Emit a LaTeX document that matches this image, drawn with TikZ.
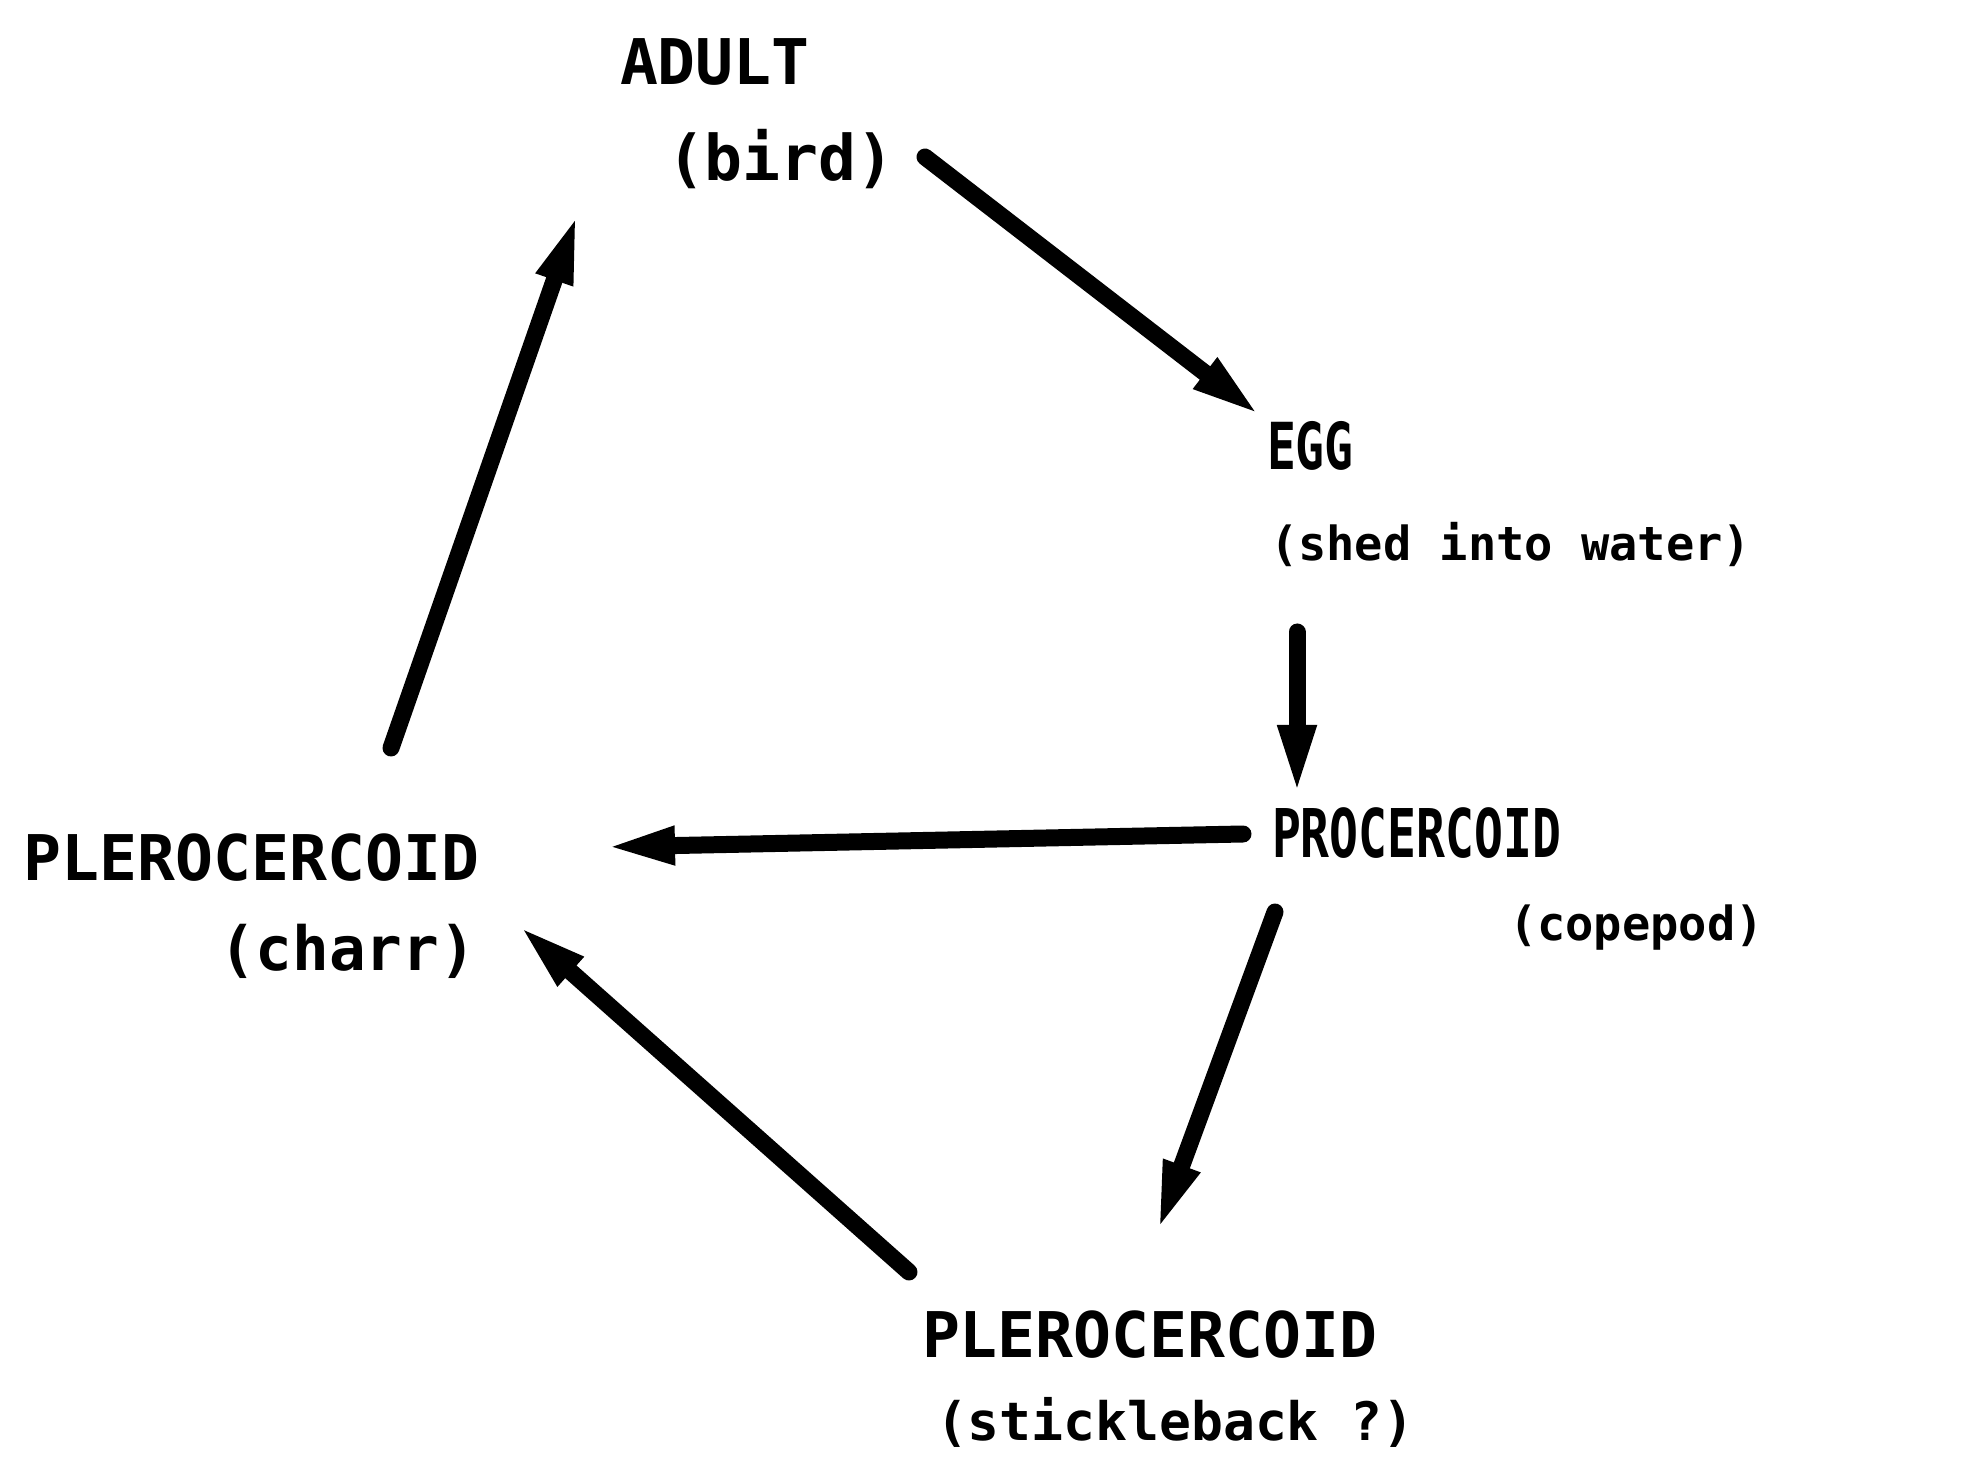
\documentclass[tikz,border=0pt]{standalone}
\usepackage{fontspec}
\newfontfamily\lblfont{DejaVu Sans Mono}
\usetikzlibrary{arrows.meta}
\tikzset{
  lbl/.style={anchor=base west, inner sep=0pt, outer sep=0pt},
  flow/.style={line width=8.5pt, line cap=round, -{Triangle[length=36pt,width=17pt]}}
}
\newcommand{\fs}[1]{\lblfont\bfseries\fontsize{#1}{#1}\selectfont}
\begin{document}
\begin{tikzpicture}[x=0.5pt,y=-0.5pt]
\useasboundingbox (0,0) rectangle (1976,1459);
% labels
\node[lbl, font=\fs{31.5}] (adult) at (620,85) {ADULT};
\node[lbl, font=\fs{31.5}] (bird) at (667,181) {(bird)};
\node[lbl, font=\fs{24}] (egg) at (1267,470) {\scalebox{1}[1.35]{EGG}};
\node[lbl, font=\fs{23.5}] (shed) at (1270,561) {(shed into water)};
\node[lbl, font=\fs{24}] (proc) at (1272,857) {\scalebox{1}[1.4]{PROCERCOID}};
\node[lbl, font=\fs{23.5}] (cope) at (1509,940) {(copepod)};
\node[lbl, font=\fs{31.5}] (plerl) at (24,880) {PLEROCERCOID};
\node[lbl, font=\fs{30.5}] (charr) at (219,970) {(charr)};
\node[lbl, font=\fs{31.5}] (plerb) at (922,1357) {PLEROCERCOID};
\node[lbl, font=\fs{26.5}] (stick) at (936,1440) {(stickleback ?)};
% connector end points
\coordinate (adult-out) at (925,157);
\coordinate (egg-in) at (1262,417);
\coordinate (egg-out) at (1297,632);
\coordinate (proc-in) at (1297,797);
\coordinate (proc-outl) at (1243,834);
\coordinate (plerl-in) at (603,847);
\coordinate (plerl-out) at (391,748);
\coordinate (adult-in) at (578,212);
\coordinate (proc-outb) at (1275,912);
\coordinate (plerb-in) at (1157,1233);
\coordinate (plerb-out) at (909,1272);
\coordinate (plerl-inb) at (517,924);
% connectors
\draw[flow] (adult-out) -- (egg-in);
\draw[flow] (egg-out) -- (proc-in);
\draw[flow] (proc-outl) -- (plerl-in);
\draw[flow] (plerl-out) -- (adult-in);
\draw[flow] (proc-outb) -- (plerb-in);
\draw[flow] (plerb-out) -- (plerl-inb);
\end{tikzpicture}
\end{document}
